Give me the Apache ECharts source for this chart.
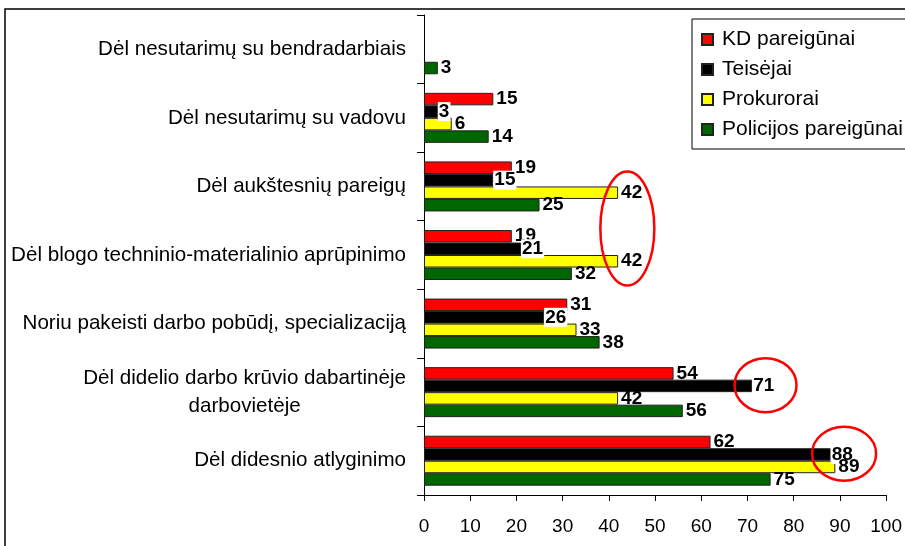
<!DOCTYPE html>
<html>
<head>
<meta charset="utf-8">
<script src="https://cdn.jsdelivr.net/npm/echarts@6/dist/echarts.min.js"></script>
<style>
  html, body { margin: 0; padding: 0; background: #fff; }
  #chart { width: 905px; height: 546px; }
</style>
</head>
<body>
<div id="chart"></div>
<script>
// categories, read top to bottom as in the picture
var categories = [
  "Dėl nesutarimų su bendradarbiais",
  "Dėl nesutarimų su vadovu",
  "Dėl aukštesnių pareigų",
  "Dėl blogo techninio-materialinio aprūpinimo",
  "Noriu pakeisti darbo pobūdį, specializaciją",
  "Dėl didelio darbo krūvio dabartinėje\ndarbovietėje",
  "Dėl didesnio atlyginimo"
];
var kdPareigunai = [null, 15, 19, 19, 31, 54, 62];
var teisejai = [null, 3, 15, 21, 26, 71, 88];
var prokurorai = [null, 6, 42, 42, 33, 42, 89];
var policija = [3, 14, 25, 32, 38, 56, 75];
var xTicks = [0, 10, 20, 30, 40, 50, 60, 70, 80, 90, 100];

// red circles drawn on the original: [x value, category index, y shift px, rx, ry]
var circles = [
  [44, 2, 42, 27, 57],
  [73.9, 5, -7, 31, 27],
  [90.9, 6, -7, 32, 27]
];

var font = "Liberation Sans, Arial, sans-serif";
var chart = echarts.init(document.getElementById("chart"));

function rev(a) { return a.slice().reverse(); }

function bar(name, color, data, extraLabel) {
  var label = {
    show: true,
    position: "right",
    distance: 3,
    color: "#000",
    fontFamily: font,
    fontSize: 19,
    fontWeight: "bold"
  };
  if (extraLabel) Object.assign(label, extraLabel);
  return {
    name: name,
    type: "bar",
    data: rev(data),
    barWidth: 12.5,
    barGap: "0%",
    itemStyle: { color: color, borderColor: "#222", borderWidth: 1 },
    label: label,
    emphasis: { disabled: true }
  };
}

chart.setOption({
  animation: false,
  backgroundColor: "#fff",
  grid: { left: 424, right: 18, top: 15, bottom: 51 },
  legend: {
    orient: "vertical",
    left: 692,
    top: 19,
    padding: [10, 60, 9, 9],
    itemWidth: 11,
    itemHeight: 11,
    itemGap: 9,
    icon: "rect",
    borderColor: "#000",
    borderWidth: 1,
    backgroundColor: "#fff",
    data: ["KD pareigūnai", "Teisėjai", "Prokurorai", "Policijos pareigūnai"],
    textStyle: { fontFamily: font, fontSize: 21, color: "#000", padding: [0, 0, 0, 4] }
  },
  xAxis: {
    type: "value",
    min: 0,
    max: 100,
    interval: 10,
    splitLine: { show: false },
    axisLine: { show: true, lineStyle: { color: "#000", width: 1 } },
    axisTick: { show: true, length: 6, lineStyle: { color: "#000" } },
    axisLabel: {
      margin: 22,
      fontFamily: font,
      fontSize: 19,
      color: "#000",
      formatter: function (v) { return xTicks.indexOf(v) >= 0 ? String(v) : ""; }
    }
  },
  yAxis: {
    type: "category",
    data: rev(categories),
    axisLine: { show: true, lineStyle: { color: "#000", width: 1 } },
    axisTick: { show: true, length: 7, lineStyle: { color: "#000" } },
    axisLabel: {
      margin: 18,
      formatter: function (v) {
        return v.split("\n").map(function (s) { return "{c|" + s + "}"; }).join("\n");
      },
      rich: {
        c: { align: "center", fontFamily: font, fontSize: 20.6, color: "#000", lineHeight: 28 }
      }
    }
  },
  series: [
    bar("KD pareigūnai", "#ff0000", kdPareigunai),
    bar("Teisėjai", "#000000", teisejai, { backgroundColor: "#fff", distance: 0, padding: [0, 1, 0, 1] }),
    bar("Prokurorai", "#ffff00", prokurorai),
    bar("Policijos pareigūnai", "#006600", policija)
  ]
});

// frame and circles
var rc = rev(categories);
var graphics = [{
  type: "rect",
  shape: { x: 5, y: 9, width: 1000, height: 1000 },
  style: { fill: null, stroke: "#000", lineWidth: 1.5 },
  z: 100
}];
circles.forEach(function (c) {
  var p = chart.convertToPixel({ gridIndex: 0 }, [c[0], rc[6 - c[1]]]);
  graphics.push({
    type: "ellipse",
    shape: { cx: p[0], cy: p[1] + c[2], rx: c[3], ry: c[4] },
    style: { fill: null, stroke: "#ff0000", lineWidth: 2.5 },
    z: 100
  });
});
chart.setOption({ graphic: graphics });
</script>
</body>
</html>
